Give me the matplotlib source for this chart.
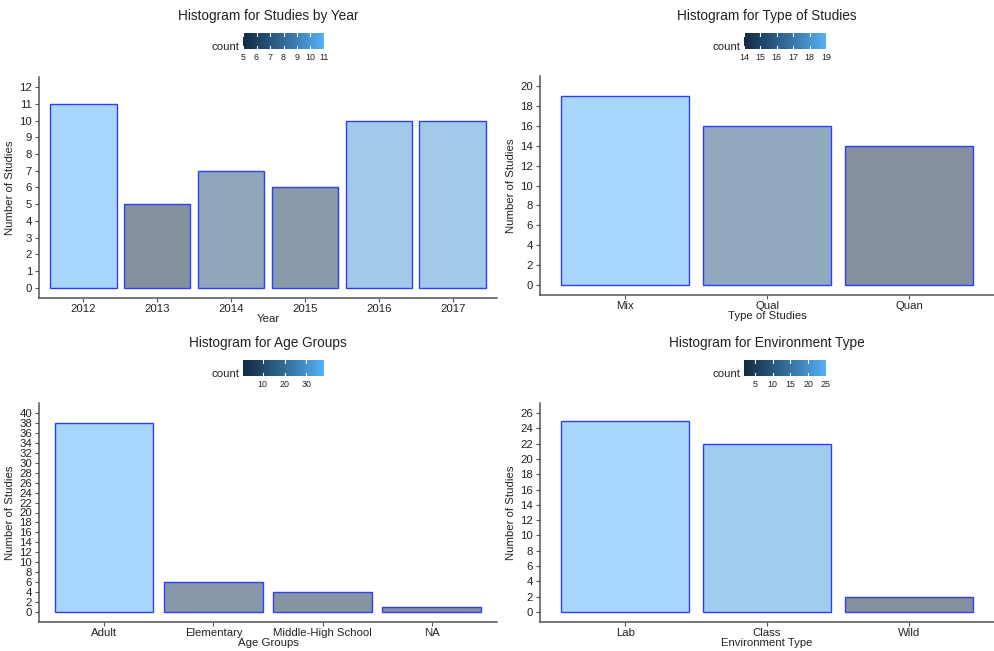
import numpy as np
import matplotlib
matplotlib.use("Agg")
import matplotlib.pyplot as plt
from matplotlib.colors import ListedColormap, Normalize, to_rgb

# data
year_labels = ["2012", "2013", "2014", "2015", "2016", "2017"]
year_counts = [11, 5, 7, 6, 10, 10]

type_labels = ["Mix", "Qual", "Quan"]
type_counts = [19, 16, 14]

age_labels = ["Adult", "Elementary", "Middle-High School", "NA"]
age_counts = [38, 6, 4, 1]

env_labels = ["Lab", "Class", "Wild"]
env_counts = [25, 22, 2]

W, H = 995, 651
plt.rcParams["font.family"] = ["Liberation Sans", "DejaVu Sans"]

# ggplot-like gradient, interpolated in CIELAB
M = np.array([[0.4124, 0.3576, 0.1805],
              [0.2126, 0.7152, 0.0722],
              [0.0193, 0.1192, 0.9505]])
WHITE = np.array([0.95047, 1.0, 1.08883])


def to_lab(c):
    c = np.asarray(c)
    lin = np.where(c <= 0.04045, c / 12.92, ((c + 0.055) / 1.055) ** 2.4)
    xyz = M @ lin / WHITE
    f = np.where(xyz > 0.008856, np.cbrt(xyz), 7.787 * xyz + 16 / 116)
    return np.array([116 * f[1] - 16, 500 * (f[0] - f[1]), 200 * (f[1] - f[2])])


def from_lab(lab):
    fy = (lab[0] + 16) / 116
    f = np.array([fy + lab[1] / 500, fy, fy - lab[2] / 200])
    xyz = np.where(f ** 3 > 0.008856, f ** 3, (f - 16 / 116) / 7.787) * WHITE
    lin = np.linalg.solve(M, xyz)
    c = np.where(lin <= 0.0031308, 12.92 * lin, 1.055 * np.clip(lin, 0, None) ** (1 / 2.4) - 0.055)
    return np.clip(c, 0, 1)


lo_lab, hi_lab = to_lab(to_rgb("#132B43")), to_lab(to_rgb("#56B1F7"))
cmap = ListedColormap([from_lab(lo_lab + t * (hi_lab - lo_lab)) for t in np.linspace(0, 1, 256)])


def rect(x0, y0, x1, y1):
    return [x0 / W, 1 - y1 / H, (x1 - x0) / W, (y1 - y0) / H]


def panel(fig, box, cbox, title, labels, counts, xlabel, ymax, ystep, cticks):
    ax = fig.add_axes(rect(*box))
    norm = Normalize(min(counts), max(counts))
    fc = [(*cmap(norm(c))[:3], 0.52) for c in counts]
    x = np.arange(len(labels))
    ax.bar(x, counts, width=0.9, color=fc, edgecolor="#2f3ff5", linewidth=1.0)
    ax.set_xlim(-0.6, len(labels) - 0.4)
    ax.set_ylim(-0.05 * ymax, 1.05 * ymax)
    ax.set_yticks(np.arange(0, ymax + 1, ystep))
    ax.set_xticks(x)
    ax.set_xticklabels(labels)
    for s in ["top", "right"]:
        ax.spines[s].set_visible(False)
    for s in ["left", "bottom"]:
        ax.spines[s].set_color("#555555")
        ax.spines[s].set_linewidth(1.1)
    ax.tick_params(length=3, width=0.8, color="#555555", labelsize=8.2,
                   labelcolor="#222222", pad=2)
    ax.tick_params(axis="x", pad=1.5)
    ax.set_xlabel(xlabel, fontsize=8.2, labelpad=0, color="#222222")
    ax.set_ylabel("Number of Studies", fontsize=8.2, labelpad=3, color="#222222")
    cx = (box[0] + box[2]) / 2
    ty = cbox[1] - 17
    fig.text(cx / W, 1 - ty / H, title, ha="center", va="center", fontsize=9.8,
             color="#222222")

    # colour bar legend
    cax = fig.add_axes(rect(*cbox))
    lo, hi = min(counts), max(counts)
    cax.imshow(np.linspace(lo, hi, 256)[None, :], extent=[lo, hi, 0, 1],
               aspect="auto", cmap=cmap)
    cax.set_xlim(lo, hi)
    cax.set_ylim(0, 1)
    for t in cticks:
        cax.plot([t, t], [0, 0.2], color="white", lw=0.8)
        cax.plot([t, t], [0.8, 1], color="white", lw=0.8)
    cax.set_xticks(cticks)
    cax.set_xticklabels([str(t) for t in cticks])
    cax.set_yticks([])
    cax.tick_params(length=0, labelsize=6.4, pad=3, labelcolor="#222222")
    for s in cax.spines.values():
        s.set_visible(False)
    fig.text((cbox[0] - 3) / W, 1 - (cbox[1] + 14) / H, "count", ha="right",
             va="center", fontsize=8.2, color="#222222")
    return ax


fig = plt.figure(figsize=(W / 100, H / 100), dpi=100)

panel(fig, (39, 77, 497, 298), (243, 33, 324, 49), "Histogram for Studies by Year",
      year_labels, year_counts, "Year", 12, 1, [5, 6, 7, 8, 9, 10, 11])
panel(fig, (540, 76, 994, 295), (744, 33, 826, 49), "Histogram for Type of Studies",
      type_labels, type_counts, "Type of Studies", 20, 2, [14, 15, 16, 17, 18, 19])
panel(fig, (39, 403, 497, 622), (243, 360, 324, 376), "Histogram for Age Groups",
      age_labels, age_counts, "Age Groups", 40, 2, [10, 20, 30])
panel(fig, (540, 403, 994, 622), (744, 360, 826, 376), "Histogram for Environment Type",
      env_labels, env_counts, "Environment Type", 26, 2, [5, 10, 15, 20, 25])

fig.savefig("out.png", dpi=100)
